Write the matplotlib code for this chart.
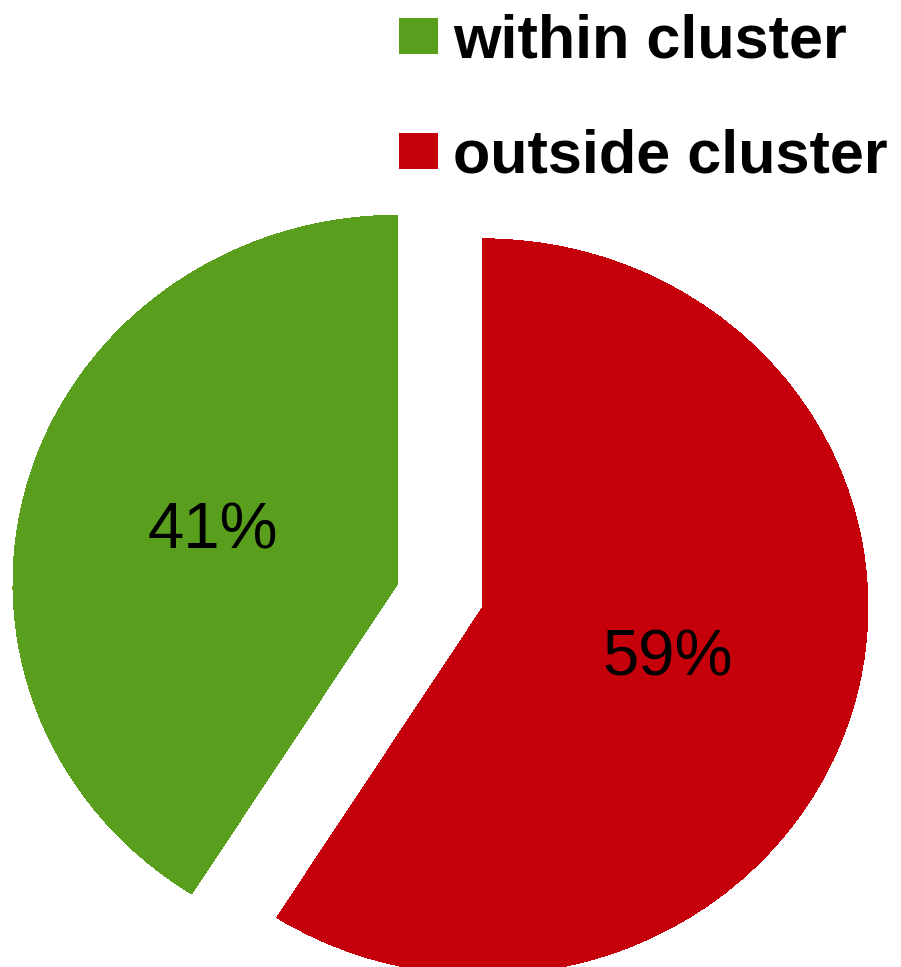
"""Share of links within vs outside cluster, as an exploded pie"""
import matplotlib
matplotlib.use("Agg")
import matplotlib.pyplot as plt

plt.rcParams['font.family'] = ['Liberation Sans', 'DejaVu Sans']

LABELS = ["within cluster", "outside cluster"]
SHARES = [41, 59]
COLORS = ["#5A9E1E", "#C5000B"]


fig = plt.figure(figsize=(9.01, 9.67), dpi=100)
# pie is slightly wider than tall, so the axes aspect is left free
ax = fig.add_axes([-0.0239, -0.072, 1.0255, 0.9133])

wedges, texts, autotexts = ax.pie(
    SHARES,
    colors=COLORS,
    startangle=90,
    explode=[0.115, 0.115],
    autopct='%1.0f%%',
    pctdistance=0.5,
    wedgeprops=dict(linewidth=0, antialiased=False),
    textprops=dict(fontsize=47, color='black'),
)
ax.set_aspect('auto')
ax.set_xlim(-1.2, 1.2)
ax.set_ylim(-1.2, 1.2)

fig.legend(
    wedges, LABELS,
    loc='upper left',
    bbox_to_anchor=(0.4428, 0.986),
    frameon=False,
    borderpad=0,
    borderaxespad=0,
    handlelength=0.64,
    handleheight=0.52,
    handletextpad=0.25,
    labelspacing=0.95,
    prop=dict(size=44, weight='bold'),
)

fig.savefig("out.png", dpi=100)
